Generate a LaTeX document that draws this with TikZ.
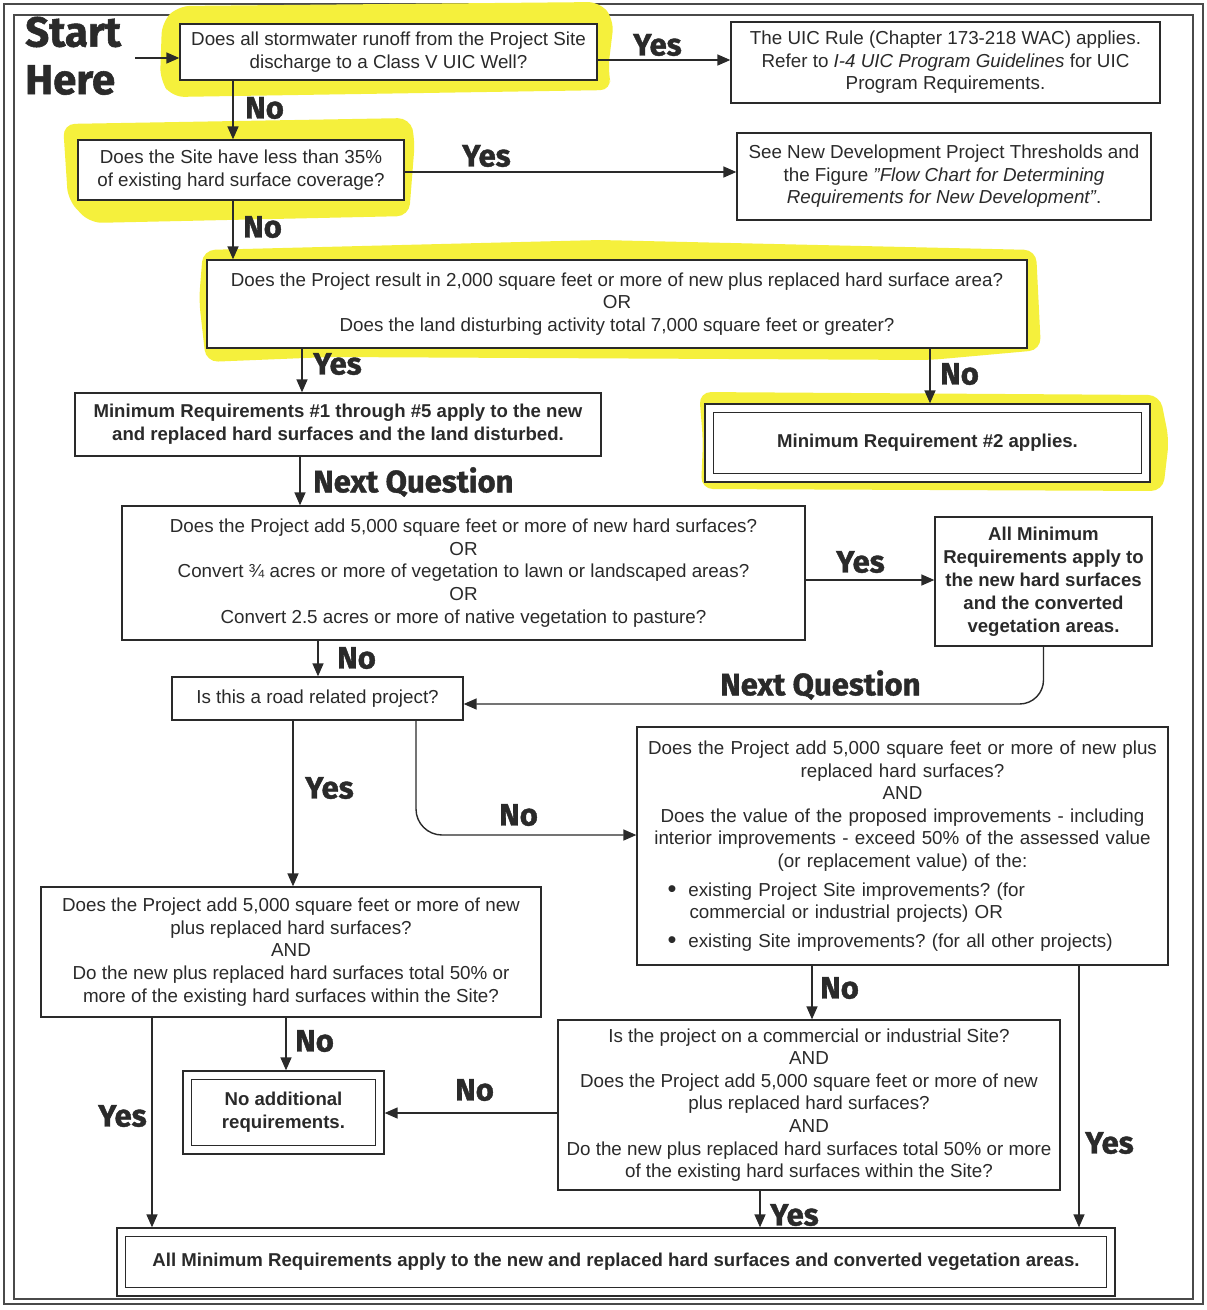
\documentclass[tikz,border=0pt]{standalone}
\usepackage{fontspec}
\setmainfont{Liberation Sans}
\newfontfamily\labfont{Fira Sans}[BoldFeatures={FakeBold=1.3}]
\usetikzlibrary{arrows.meta}
\definecolor{ink}{HTML}{2A2A2A}
\definecolor{hl}{RGB}{245,240,60}
\frenchspacing
\tikzset{
 box/.style={draw=ink, line width=1.3pt, fill=white, align=center, inner sep=3pt, text=ink, font=\frenchspacing\fontsize{18.8}{22.6}\selectfont},
 boldbox/.style={box, font=\frenchspacing\fontsize{18.6}{23}\selectfont\bfseries},
 arr/.style={draw=ink, line width=1.4pt, -{Triangle[length=13pt,width=11pt]}},
 lab/.style={anchor=west, text=ink, font=\labfont\bfseries\fontsize{31}{31}\selectfont, inner sep=0pt},
 biglab/.style={lab, font=\labfont\bfseries\fontsize{42}{42}\selectfont},
 hlt/.style={fill=hl, rounded corners=12pt},
 frame/.style={draw=ink!85, line width=1.4pt},
 innerline/.style={draw=ink, line width=1.3pt},
}
\newcommand{\bigbul}{\raisebox{-1pt}{\scalebox{1.35}{\textbullet}}}
\begin{document}
\begin{tikzpicture}[x=1pt,y=-1pt]
\useasboundingbox (0,0) rectangle (1207,1310);
\fill[white] (0,0) rectangle (1207,1310);
% frame
\draw[frame] (4,4) rectangle (1203,1304);
\draw[frame] (14,15) rectangle (1193,1299);
% highlights
\fill[hlt] (162,22) -- (178,6) -- (600,2) -- (614,20) -- (608,70) -- (612,90) -- (172,97) -- (160,80) -- cycle;
\fill[hlt] (63,124) -- (410,118) -- (415,140) -- (409,216) -- (90,223) -- (68,200) -- cycle;
\fill[hlt] (203,250) -- (600,240) -- (1036,250) -- (1041,350) -- (930,360) -- (330,357) -- (206,362) -- (199,300) -- cycle;
\fill[hlt] (699,392) -- (1160,395) -- (1169,440) -- (1163,491) -- (701,489) -- (703,440) -- cycle;
% nodes
\node[box, minimum width=417, minimum height=56] (q1) at (388.5,52) {Does all stormwater runoff from the Project Site\\discharge to a Class V UIC Well?};
\node[box, minimum width=429, minimum height=81] (uic) at (945.5,62.5) {The UIC Rule (Chapter 173-218 WAC) applies.\\Refer to \textit{I-4 UIC Program Guidelines} for UIC\\Program Requirements.};
\node[box, minimum width=326, minimum height=60] (q2) at (241,170) {Does the Site have less than 35\%\\of existing hard surface coverage?};
\node[box, minimum width=414, minimum height=87] (newdev) at (944,176.5) {See New Development Project Thresholds and\\the Figure \textit{"Flow Chart for Determining}\\\textit{Requirements for New Development"}.};
\node[box, minimum width=820, minimum height=88] (q3) at (617,304) {Does the Project result in 2,000 square feet or more of new plus replaced hard surface area?\\OR\\Does the land disturbing activity total 7,000 square feet or greater?};
\node[boldbox, minimum width=526, minimum height=63] (mr1) at (338,424.5) {Minimum Requirements \#1 through \#5 apply to the new\\and replaced hard surfaces and the land disturbed.};
\node[boldbox, minimum width=445, minimum height=78] (mr2) at (927.5,443) {Minimum Requirement \#2 applies.};
\draw[innerline] ([shift={(9,9)}]mr2.north west) rectangle ([shift={(-9,-9)}]mr2.south east);
\node[box, minimum width=683, minimum height=134] (q4) at (463.5,573) {Does the Project add 5,000 square feet or more of new hard surfaces?\\OR\\Convert ¾ acres or more of vegetation to lawn or landscaped areas?\\OR\\Convert 2.5 acres or more of native vegetation to pasture?};
\node[boldbox, minimum width=217, minimum height=129] (allmin) at (1043.5,581.5) {All Minimum\\Requirements apply to\\the new hard surfaces\\and the converted\\vegetation areas.};
\node[box, minimum width=291, minimum height=43] (road) at (317.5,698.5) {Is this a road related project?};
\node[box, minimum width=531, minimum height=238, text width=522pt] (q5) at (902.5,846) {Does the Project add 5,000 square feet or more of new plus\\replaced hard surfaces?\\AND\\Does the value of the proposed improvements - including\\interior improvements - exceed 50\% of the assessed value\\(or replacement value) of the:\\[6pt]
\makebox[\linewidth][l]{\hspace*{26pt}\bigbul\hspace*{12pt}existing Project Site improvements? (for}\\
\makebox[\linewidth][l]{\hspace*{48pt}commercial or industrial projects) OR}\\[6pt]
\makebox[\linewidth][l]{\hspace*{26pt}\bigbul\hspace*{12pt}existing Site improvements? (for all other projects)}};
\node[box, minimum width=500, minimum height=130] (q6) at (291,952) {Does the Project add 5,000 square feet or more of new\\plus replaced hard surfaces?\\AND\\Do the new plus replaced hard surfaces total 50\% or\\more of the existing hard surfaces within the Site?};
\node[boldbox, minimum width=201, minimum height=83] (noadd) at (283.5,1112.5) {No additional\\requirements.};
\draw[innerline] ([shift={(9,9)}]noadd.north west) rectangle ([shift={(-9,-9)}]noadd.south east);
\node[box, minimum width=502, minimum height=170] (q7) at (809,1105) {Is the project on a commercial or industrial Site?\\AND\\Does the Project add 5,000 square feet or more of new\\plus replaced hard surfaces?\\AND\\Do the new plus replaced hard surfaces total 50\% or more\\of the existing hard surfaces within the Site?};
\node[boldbox, minimum width=998, minimum height=68] (final) at (616,1262) {All Minimum Requirements apply to the new and replaced hard surfaces and converted vegetation areas.};
\draw[innerline] ([shift={(9,9)}]final.north west) rectangle ([shift={(-9,-9)}]final.south east);
% labels
\node[biglab] (lstart) at (25,32) {Start};
\node[biglab] (lhere) at (25,80) {Here};
\node[lab] (l1) at (245,108) {No};
\node[lab] (l2) at (633,45) {Yes};
\node[lab] (l3) at (462,156) {Yes};
\node[lab] (l4) at (243,227) {No};
\node[lab] (l5) at (313,364) {Yes};
\node[lab] (l6) at (940,374) {No};
\node[lab] (l7) at (313,482) {Next Question};
\node[lab] (l8) at (836,562) {Yes};
\node[lab] (l9) at (720,685) {Next Question};
\node[lab] (l10) at (337,658) {No};
\node[lab] (l11) at (305,788) {Yes};
\node[lab] (l12) at (499,815) {No};
\node[lab] (l13) at (820,988) {No};
\node[lab] (l14) at (1085,1143) {Yes};
\node[lab] (l15) at (295,1041) {No};
\node[lab] (l16) at (98,1116) {Yes};
\node[lab] (l17) at (455,1090) {No};
\node[lab] (l18) at (770,1215) {Yes};
% connectors
\coordinate (s0) at (135,58);
\draw[arr] (s0) -- (s0 -| q1.west);
\draw[arr] (q1.east |- 0,60) -- (uic.west |- 0,60);
\draw[arr] (233,0 |- q1.south) -- (233,0 |- q2.north);
\draw[arr] (q2.east |- 0,172) -- (newdev.west |- 0,172);
\draw[arr] (233,0 |- q2.south) -- (233,0 |- q3.north);
\draw[arr] (302,0 |- q3.south) -- (302,0 |- mr1.north);
\draw[arr] (930,0 |- q3.south) -- (930,0 |- mr2.north);
\draw[arr] (300,0 |- mr1.south) -- (300,0 |- q4.north);
\draw[arr] (q4.east |- 0,580) -- (allmin.west |- 0,580);
\draw[arr, rounded corners=24pt] (allmin.south) |- (road.east |- 0,704);
\draw[arr] (318,0 |- q4.south) -- (318,0 |- road.north);
\draw[arr] (293,0 |- road.south) -- (293,0 |- q6.north);
\draw[arr, rounded corners=26pt] (416,0 |- road.south) |- (q5.west |- 0,835);
\draw[arr] (812,0 |- q5.south) -- (812,0 |- q7.north);
\draw[arr] (1079,0 |- q5.south) -- (1079,0 |- final.north);
\draw[arr] (286,0 |- q6.south) -- (286,0 |- noadd.north);
\draw[arr] (152,0 |- q6.south) -- (152,0 |- final.north);
\draw[arr] (q7.west |- 0,1113) -- (noadd.east |- 0,1113);
\draw[arr] (760,0 |- q7.south) -- (760,0 |- final.north);
\end{tikzpicture}
\end{document}
